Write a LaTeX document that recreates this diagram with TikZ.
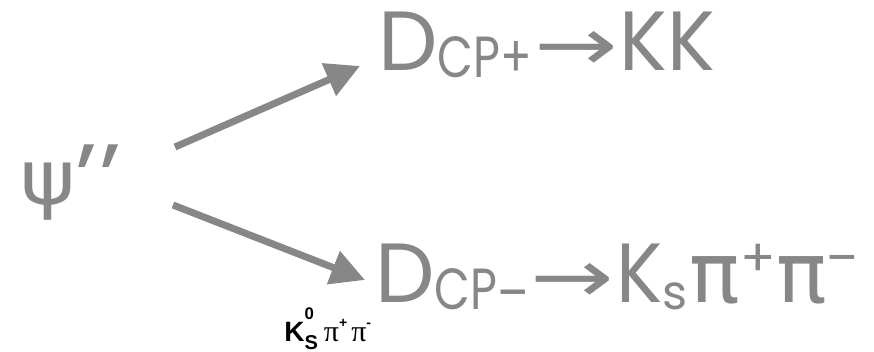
\documentclass[tikz,border=0pt]{standalone}
\usepackage{fontspec}
\usepackage{graphicx}
\setmainfont{Poppins}
\newfontfamily\grk{DejaVu Sans}
\newfontfamily\arl{Liberation Sans}
\newfontfamily\tms{Liberation Serif}
\usetikzlibrary{arrows.meta}
\definecolor{ink}{HTML}{878787}
% sub- and superscripts of the big formulas
\newcommand{\bigsub}[1]{\raisebox{-3.5pt}{\fontsize{29}{29}\selectfont\scalebox{0.8}[1]{#1}}}
\newcommand{\bigsup}[1]{\raisebox{13pt}{\fontsize{26}{26}\selectfont #1}}
\newcommand{\bigto}{\hspace{1pt}{\grk\fontsize{37}{37}\selectfont\scalebox{1.35}[1]{→}}\hspace{1pt}}
\tikzset{
  big/.style={text=ink,inner sep=0pt,anchor=base west,font=\fontsize{42}{42}\selectfont},
  small/.style={text=black,inner sep=0pt,anchor=base west},
  flow/.style={draw=ink,line width=3.5pt,-{Triangle[length=17pt,width=17pt]}},
}
\begin{document}
\begin{tikzpicture}[x=0.5pt,y=-0.5pt]
  \useasboundingbox (0,0) rectangle (874,352);
  \node[big] (psi) at (20,205)
    {{\grk\fontsize{38}{38}\selectfont\scalebox{1.1}[1]{ψ}}\raisebox{-5pt}{\fontsize{50}{50}\selectfont ’\hspace{1pt}’}};
  \node[big] (dplus) at (378,71) {D\bigsub{CP+}\bigto\scalebox{0.95}[1]{KK}};
  \node[big] (dminus) at (375,303)
    {D\bigsub{CP\raisebox{-2pt}{–}}\bigto\scalebox{0.92}[1]{K}\raisebox{-3.5pt}{\fontsize{24}{24}\selectfont s}%
     \hspace{1pt}{\grk π}\bigsup{+}{\grk π}\bigsup{\scalebox{0.9}[1]{–}}};
  \node[small] (mode) at (284,342)
    {{\arl\bfseries\fontsize{14}{14}\selectfont K\rlap{\raisebox{11pt}{\fontsize{8.4}{8.4}\selectfont 0}}\raisebox{-4pt}{\fontsize{10}{10}\selectfont S}}\hspace{3pt}%
     {\tms\fontsize{15}{15}\selectfont π}\raisebox{7pt}{\arl\bfseries\fontsize{7}{7}\selectfont +}\hspace{2pt}%
     {\tms\fontsize{15}{15}\selectfont π}\raisebox{7pt}{\arl\bfseries\fontsize{7}{7}\selectfont -}};
  \draw[flow] ([shift={(155,-58)}]psi.base west) -- ([shift={(-18,-5)}]dplus.base west);
  \draw[flow] ([shift={(153,0)}]psi.base west) -- ([shift={(-10,-23)}]dminus.base west);
\end{tikzpicture}
\end{document}
